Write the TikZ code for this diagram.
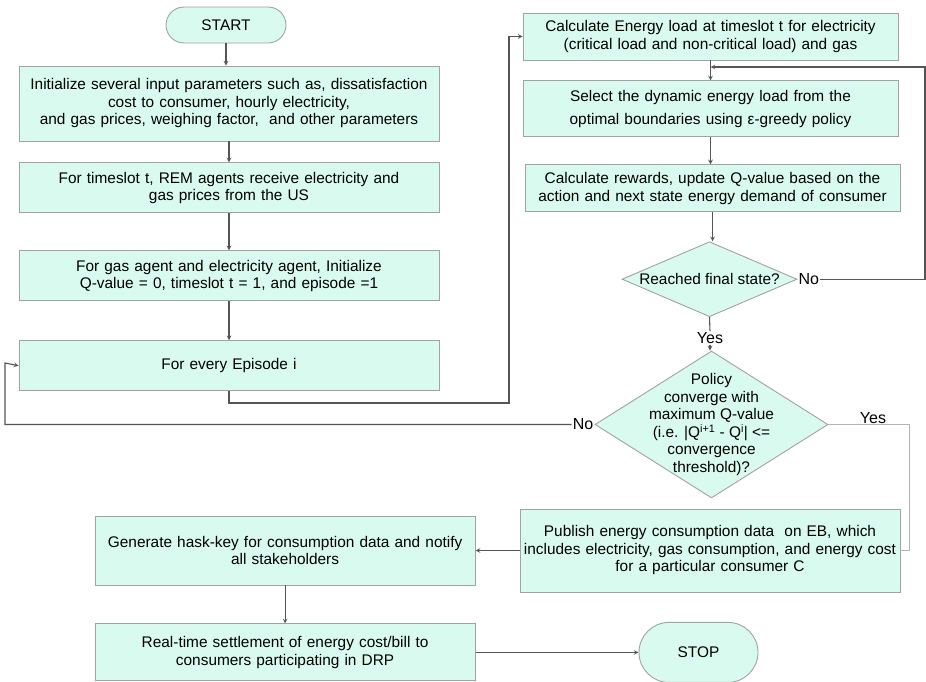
\documentclass[tikz,border=0pt]{standalone}
\usepackage{fontspec}
\setmainfont{Liberation Sans}
\usepackage{xcolor}
\definecolor{boxfill}{HTML}{D9FAEF}
\definecolor{boxline}{HTML}{A2A2A2}
\definecolor{flow}{HTML}{555555}
\definecolor{yesgray}{HTML}{B4B4B4}
\usetikzlibrary{positioning,shapes.geometric}

\begin{document}
\begin{tikzpicture}[x=1pt,y=-1pt,
      font=\fontsize{15.4pt}{17.5pt}\selectfont,
      box/.style={draw=boxline,fill=boxfill,line width=0.9pt,inner sep=0pt,text width=#1,align=center},
      box/.default=420pt,
      term/.style={draw=boxline,fill=boxfill,line width=0.9pt,rounded corners=#1,inner sep=0pt,align=center},
      decision/.style={diamond,draw=boxline,fill=boxfill,line width=0.9pt,align=center},
      lbl/.style={inner sep=1pt,font=\fontsize{16pt}{18pt}\selectfont},
      arrow/.style={->,>=stealth,color=flow,line width=1.1pt},
      yesline/.style={color=yesgray,line width=1pt}]
      \useasboundingbox (0,0) rectangle (926,682);
      \node[term=18pt,minimum width=120pt,minimum height=36pt] (start) at (226,25) {START};
      \node[box,minimum height=75pt] (init) at (229,103.5) {Initialize several input parameters such as, dissatisfaction\\cost to consumer, hourly electricity,\\and gas prices, weighing factor,\ \ and other parameters};
      \node[box,minimum height=50pt,below=21pt of init] (prices) {For timeslot t, REM agents receive electricity and\\gas prices from the US};
      \node[box,minimum height=50pt,below=37pt of prices] (qinit) {For gas agent and electricity agent, Initialize\\Q-value = 0, timeslot t = 1, and episode =1};
      \node[box,minimum height=50pt,below=39pt of qinit] (episode) {For every Episode i};
      \node[box=375pt,minimum height=47pt] (load) at (710.5,36.5) {Calculate Energy load at timeslot t for electricity\\(critical load and non-critical load) and gas};
      \node[box=375pt,minimum height=56pt,below=20pt of load] (select) {Select the dynamic energy load from the\\[5.5pt]optimal boundaries using ε-greedy policy};
      \node[box=375pt,minimum height=47pt,below=27pt of select,xshift=2pt] (reward) {Calculate rewards, update Q-value based on the\\action and next state energy demand of consumer};
      \node[decision,aspect=2.33,inner sep=-6pt,minimum width=175pt,minimum height=75pt,below=29pt of reward,xshift=-3pt] (final) {Reached final state?};
      \node[decision,aspect=1.585,inner sep=-30pt,minimum width=233pt,minimum height=147pt] (conv) at (711.5,424.5) {Policy\\converge with\\maximum Q-value\\(i.e. |Q\textsuperscript{i+1} - Q\textsuperscript{i}| <=\\convergence\\threshold)?};
      \node[box=380pt,minimum height=83pt] (publish) at (710,550.5) {Publish energy consumption data\ \ on EB, which\\includes electricity, gas consumption, and energy cost\\for a particular consumer C};
      \node[box=380pt,minimum height=69pt,left=44pt of publish] (hash) {Generate hask-key for consumption data and notify\\all stakeholders};
      \node[box=380pt,minimum height=57pt,below=38pt of hash] (settle) {Real-time settlement of energy cost/bill to\\consumers participating in DRP};
      \node[term=30pt,minimum width=119pt,minimum height=60pt,right=163pt of settle] (stop) {STOP};
      \node[lbl,anchor=west] (finalno) at (final.east) {No};
      \node[lbl] (finalyes) at (710,338) {Yes};
      \node[lbl,anchor=east] (convno) at (conv.west) {No};
      \node[lbl,anchor=south] (convyes) at (873,424.5) {Yes};
      \coordinate (looptop) at (509,403);
      \coordinate (noback) at (925,67);
      \coordinate (noleft) at (5,363);
      \coordinate (yesright) at (909,0);
      \draw[arrow] (start.south) -- (start.south |- init.north);
      \draw[arrow] (init) -- (prices);
      \draw[arrow] (prices) -- (qinit);
      \draw[arrow] (qinit) -- (episode);
      \draw[arrow] (episode.south) |- (looptop) |- (load.west);
      \draw[arrow] (load.south) -- (load.south |- select.north);
      \draw[arrow] (select.south) -- (select.south |- reward.north);
      \draw[arrow] (reward.south) -- (reward.south |- final.north);
      \draw[arrow] (finalno.east) -| (noback) -- (noback -| load.south);
      \draw[flow,line width=1.1pt] (final.south) -- (finalyes.north);
      \draw[arrow] (finalyes.south) -- (finalyes.south |- conv.north);
      \draw[arrow] (convno.west) -| (noleft) -- (episode.west);
      \draw[yesline] (conv.east) -| (yesright |- publish.east) -- (publish.east);
      \draw[arrow] (publish.west) -- (hash.east);
      \draw[arrow] (hash) -- (settle);
      \draw[arrow] (settle) -- (stop);
    \end{tikzpicture}
\end{document}
